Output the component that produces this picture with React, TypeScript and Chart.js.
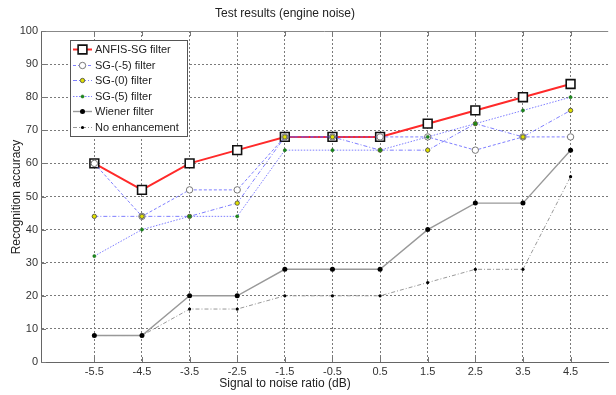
import React, { useEffect, useRef } from 'react';
import { Chart, registerables } from 'chart.js';

Chart.register(...registerables);

const snr = [-5.5, -4.5, -3.5, -2.5, -1.5, -0.5, 0.5, 1.5, 2.5, 3.5, 4.5];
const anfisSG = [60, 52, 60, 64, 68, 68, 68, 72, 76, 80, 84];
const sgMinus5 = [60, 44, 52, 52, 68, 68, 68, 68, 64, 68, 68];
const sg0 = [44, 44, 44, 48, 68, 68, 64, 64, 72, 68, 76];
const sg5 = [32, 40, 44, 44, 64, 64, 64, 68, 72, 76, 80];
const wiener = [8, 8, 20, 20, 28, 28, 28, 40, 48, 48, 64];
const noEnhancement = [8, 8, 16, 16, 20, 20, 20, 24, 28, 28, 56];
const yTicks = [0, 10, 20, 30, 40, 50, 60, 70, 80, 90, 100];
const seriesNames = ['ANFIS-SG filter', 'SG-(-5) filter', 'SG-(0) filter', 'SG-(5) filter', 'Wiener filter', 'No enhancement'];
const chartTitle = 'Test results (engine noise)';
const xTitle = 'Signal to noise ratio (dB)';
const yTitle = 'Recognition accuracy';

const FONT = '"Liberation Sans", Arial, Helvetica, sans-serif';
const TEXT = '#222';

const pts = (vals: number[]) => vals.map((v, i) => ({ x: snr[i], y: v }));

const overlayPlugin = {
  id: 'overlay',
  beforeDatasetsDraw(chart: any) {
    const { ctx, chartArea } = chart;
    const xs = chart.scales.x;
    const ys = chart.scales.y;
    ctx.save();
    ctx.strokeStyle = '#888';
    ctx.lineWidth = 1;
    ctx.beginPath();
    ctx.moveTo(chartArea.left, chartArea.top + 0.5);
    ctx.lineTo(chartArea.right, chartArea.top + 0.5);
    ctx.stroke();
    // inward tick marks
    ctx.strokeStyle = '#777';
    ctx.beginPath();
    snr.forEach((v) => {
      const x = Math.round(xs.getPixelForValue(v)) + 0.5;
      ctx.moveTo(x, chartArea.top);
      ctx.lineTo(x, chartArea.top + 5);
      ctx.moveTo(x, chartArea.bottom);
      ctx.lineTo(x, chartArea.bottom - 5);
    });
    yTicks.forEach((v) => {
      const y = Math.round(ys.getPixelForValue(v)) + 0.5;
      ctx.moveTo(chartArea.left, y);
      ctx.lineTo(chartArea.left + 5, y);
    });
    ctx.stroke();
    ctx.restore();
  },
  afterDraw(chart: any) {
    const { ctx } = chart;
    ctx.save();
    ctx.fillStyle = TEXT;
    ctx.font = `12px ${FONT}`;
    ctx.textAlign = 'center';
    ctx.textBaseline = 'middle';
    ctx.fillText(chartTitle, 285, 14);
    ctx.fillText(xTitle, 285, 384);
    ctx.save();
    ctx.translate(17, 197);
    ctx.rotate(-Math.PI / 2);
    ctx.fillText(yTitle, 0, 0);
    ctx.restore();

    // legend
    const bx = 70.5, by = 40.5, bw = 117, bh = 96;
    ctx.fillStyle = '#fff';
    ctx.fillRect(bx, by, bw, bh);
    ctx.strokeStyle = '#555';
    ctx.lineWidth = 1;
    ctx.strokeRect(bx, by, bw, bh);
    ctx.font = `11px ${FONT}`;
    ctx.textAlign = 'left';
    chart.data.datasets.forEach((ds: any, i: number) => {
      const y = Math.round(49 + i * 15.6) + 0.5;
      ctx.save();
      ctx.strokeStyle = ds.borderColor;
      ctx.lineWidth = ds.borderWidth;
      ctx.setLineDash(ds.borderDash || []);
      ctx.beginPath();
      ctx.moveTo(73, y);
      ctx.lineTo(92, y);
      ctx.stroke();
      ctx.setLineDash([]);
      const r = ds.pointRadius;
      ctx.fillStyle = ds.pointBackgroundColor;
      ctx.strokeStyle = ds.pointBorderColor;
      ctx.lineWidth = ds.pointBorderWidth;
      const cx = 82.5;
      ctx.beginPath();
      if (ds.pointStyle === 'rect') {
        const s = Math.SQRT1_2 * r;
        ctx.rect(cx - s, y - s, 2 * s, 2 * s);
      } else {
        ctx.arc(cx, y, r, 0, Math.PI * 2);
      }
      ctx.fill();
      if (ds.pointBorderWidth > 0) ctx.stroke();
      ctx.restore();
      ctx.fillStyle = TEXT;
      ctx.fillText(ds.label, 95, y + 0.5);
    });
    ctx.restore();
  },
};

export default function App() {
  const ref = useRef<HTMLCanvasElement>(null);
  useEffect(() => {
    const blue = 'rgba(95,95,255,0.8)';
    const chart = new Chart(ref.current as HTMLCanvasElement, {
      type: 'line',
      data: {
        datasets: [
          {
            label: seriesNames[0], data: pts(anfisSG), borderColor: '#ff2a2a', borderWidth: 2,
            pointStyle: 'rect', pointRadius: 6.2, pointBackgroundColor: '#fff', pointBorderColor: '#111', pointBorderWidth: 1.6, order: 4,
          },
          {
            label: seriesNames[1], data: pts(sgMinus5), borderColor: blue, borderWidth: 1, borderDash: [3, 2],
            pointStyle: 'circle', pointRadius: 3.2, pointBackgroundColor: '#fff', pointBorderColor: '#777', pointBorderWidth: 1, order: 3,
          },
          {
            label: seriesNames[2], data: pts(sg0), borderColor: blue, borderWidth: 1, borderDash: [4, 2, 1, 2],
            pointStyle: 'circle', pointRadius: 2.2, pointBackgroundColor: '#e0e000', pointBorderColor: '#444', pointBorderWidth: 0.8, order: 2,
          },
          {
            label: seriesNames[3], data: pts(sg5), borderColor: blue, borderWidth: 1, borderDash: [1.5, 1.5],
            pointStyle: 'circle', pointRadius: 1.6, pointBackgroundColor: '#1a8a1a', pointBorderColor: '#1a6a1a', pointBorderWidth: 0.5, order: 1,
          },
          {
            label: seriesNames[4], data: pts(wiener), borderColor: '#999', borderWidth: 1.4,
            pointStyle: 'circle', pointRadius: 2.5, pointBackgroundColor: '#000', pointBorderColor: '#000', pointBorderWidth: 0, order: 5,
          },
          {
            label: seriesNames[5], data: pts(noEnhancement), borderColor: '#999', borderWidth: 1, borderDash: [4, 2, 1, 2],
            pointStyle: 'circle', pointRadius: 1.6, pointBackgroundColor: '#000', pointBorderColor: '#000', pointBorderWidth: 0, order: 6,
          },
        ] as any,
      },
      options: {
        animation: false,
        responsive: false,
        maintainAspectRatio: false,
        layout: { padding: { left: 0, right: 0, top: 31, bottom: 0 } },
        plugins: { legend: { display: false }, tooltip: { enabled: false }, title: { display: false } },
        elements: { line: { tension: 0 } },
        scales: {
          x: {
            type: 'linear',
            min: -6.62,
            max: 5.29,
            afterBuildTicks: (s: any) => { s.ticks = snr.map((v) => ({ value: v })); },
            afterFit: (s: any) => { s.height = 33; },
            ticks: {
              color: '#333', font: { family: FONT, size: 11 }, padding: 3, maxRotation: 0, autoSkip: false,
              callback: (v: any) => Number(v).toFixed(1),
            },
            grid: { color: '#7a7a7a', lineWidth: 1, drawTicks: false },
            border: { display: true, color: '#666', width: 1, dash: [2, 2] },
          },
          y: {
            type: 'linear',
            min: 0,
            max: 100,
            afterBuildTicks: (s: any) => { s.ticks = yTicks.map((v) => ({ value: v })); },
            afterFit: (s: any) => { s.width = 41; },
            ticks: { color: '#333', font: { family: FONT, size: 11 }, padding: 3 },
            grid: { color: '#7a7a7a', lineWidth: 1, drawTicks: false },
            border: { display: true, color: '#666', width: 1, dash: [2, 2] },
          },
        },
      } as any,
      plugins: [overlayPlugin],
    });
    return () => chart.destroy();
  }, []);
  return (
    <div style={{ position: 'fixed', left: 0, top: 0, width: 616, height: 395, background: '#fff' }}>
      <canvas ref={ref} width={616} height={395} style={{ display: 'block' }} />
    </div>
  );
}
